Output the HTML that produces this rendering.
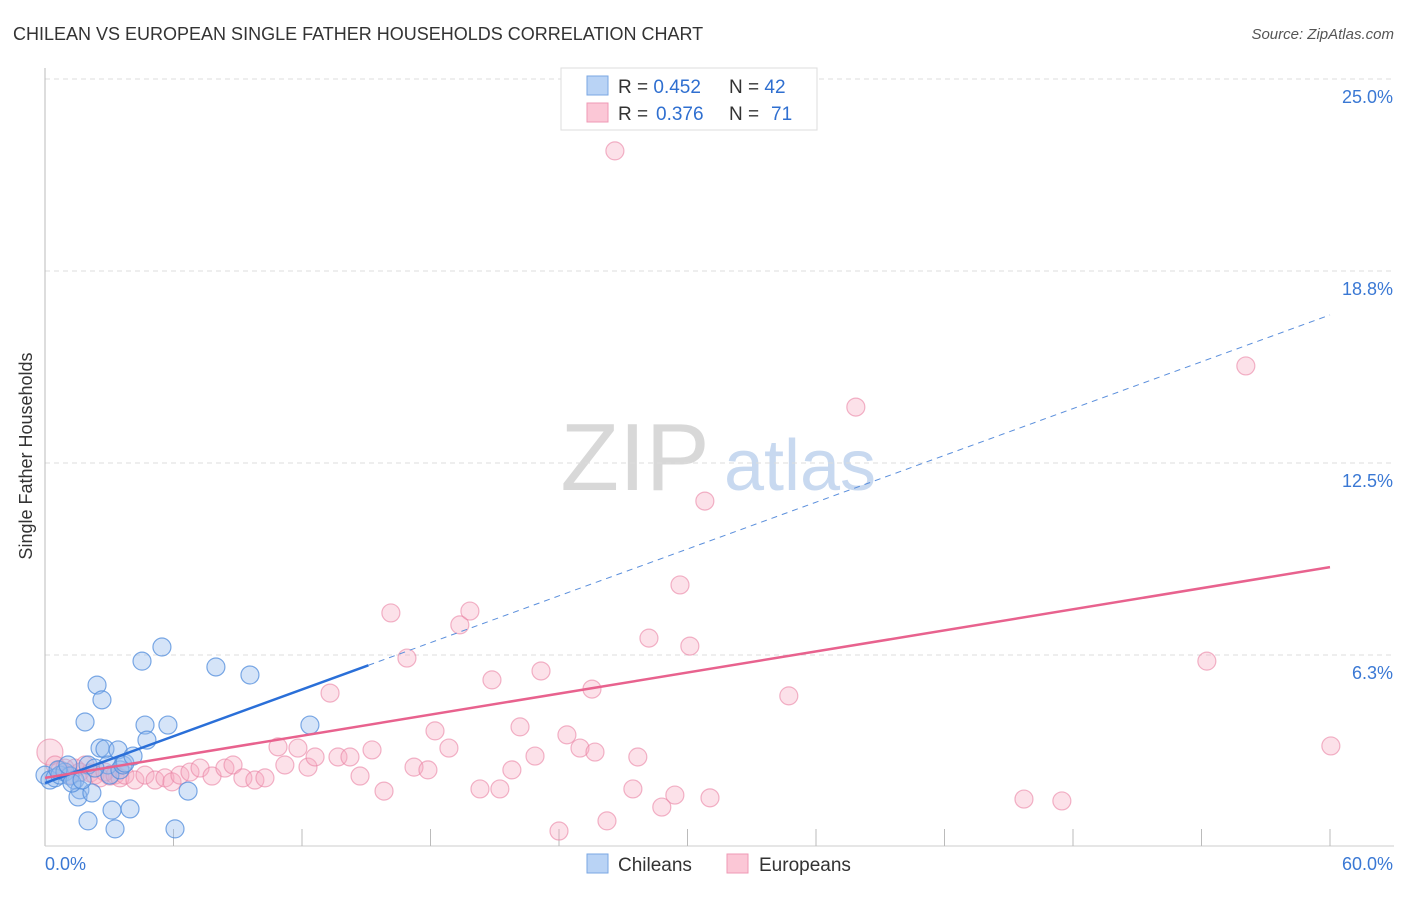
<!DOCTYPE html>
<html><head><meta charset="utf-8"><style>
body{margin:0;background:#fff;font-family:"Liberation Sans",sans-serif}
svg text{font-family:"Liberation Sans",sans-serif}
</style></head><body>
<svg width="1406" height="892" viewBox="0 0 1406 892">
<text x="13" y="40" font-size="18" fill="#333">CHILEAN VS EUROPEAN SINGLE FATHER HOUSEHOLDS CORRELATION CHART</text>
<text x="1394" y="39" font-size="15" fill="#555" font-style="italic" text-anchor="end">Source: ZipAtlas.com</text>
<text x="32" y="456" font-size="18" fill="#333" text-anchor="middle" transform="rotate(-90 32 456)">Single Father Households</text>
<g>
<text x="635" y="490" font-size="96" fill="#d8d8d8" font-family="Liberation Serif,serif" text-anchor="middle">ZIP</text>
<text x="800" y="490" font-size="72" fill="#c8d9f0" text-anchor="middle">atlas</text>
</g>
<g id="grid"></g><g id="axes"></g><g id="pts"></g><g id="lines"></g>
<g>
<rect x="561" y="68" width="256" height="62" fill="#fff" stroke="#ddd"/>
<rect x="587" y="76" width="21" height="19" fill="#b9d3f5" stroke="#7aa7e3"/>
<rect x="587" y="103" width="21" height="19" fill="#fbc7d6" stroke="#ef9ab5"/>
<text x="618" y="93" font-size="19" fill="#333">R = <tspan fill="#2f6fd0">0.452</tspan><tspan x="729">N = </tspan><tspan fill="#2f6fd0">42</tspan></text>
<text x="618" y="120" font-size="19" fill="#333">R = <tspan x="656" fill="#2f6fd0">0.376</tspan><tspan x="729">N = </tspan><tspan x="771" fill="#2f6fd0">71</tspan></text>
</g>
<g>
<rect x="587" y="854" width="21" height="19" fill="#b9d3f5" stroke="#7aa7e3"/>
<text x="618" y="871" font-size="19" fill="#333">Chileans</text>
<rect x="727" y="854" width="21" height="19" fill="#fbc7d6" stroke="#ef9ab5"/>
<text x="759" y="871" font-size="19" fill="#333">Europeans</text>
</g>
</svg>
<script>
const yTicks=[6.25,12.5,18.75,25];
const yTickLabels=["6.3%","12.5%","18.8%","25.0%"];
const xTicks=[0,6,12,18,24,30,36,42,48,54,60];
const blueX=[0,.23,.47,.70,.93,1.17,1.40,1.63,1.54,1.87,2.01,2.19,2.43,2.57,2.66,2.80,2.94,3.03,3.13,3.27,3.41,3.50,3.64,3.73,3.97,4.11,4.53,4.67,4.76,5.46,5.74,6.07,6.68,7.98,9.57,12.37,2.01,.61,1.07,1.26,1.73,2.33];
const blueY=[2.34,2.18,2.25,2.34,2.44,2.31,2.18,1.86,1.63,4.07,2.67,1.76,5.27,3.22,4.79,3.19,2.67,2.34,1.20,.59,3.16,2.51,2.67,2.73,1.24,2.96,6.05,3.97,3.48,6.51,3.97,.59,1.82,5.86,5.60,3.97,.85,2.51,2.67,2.08,2.18,2.57];
const pinkX=[.23,.47,.70,.93,1.17,1.40,1.63,1.87,2.10,2.33,2.57,2.80,3.03,3.27,3.50,3.73,4.20,4.67,5.14,5.60,5.93,6.30,6.77,7.24,7.80,8.40,8.78,9.24,9.80,10.27,10.88,11.20,11.81,12.28,12.61,13.31,13.68,14.24,14.71,15.27,15.83,16.15,16.90,17.23,17.88,18.21,18.86,19.37,19.84,20.31,20.87,21.24,21.80,22.18,22.88,23.16,24.00,24.37,24.98,25.54,25.68,26.24,26.61,27.45,27.68,28.20,28.80,29.41,29.65,30.11,30.81,31.05,32.21,34.73,37.86,45.71,47.48,54.25,56.07,60.04];
const pinkY=[3.09,2.67,2.51,2.57,2.34,2.57,2.44,2.67,2.41,2.34,2.25,2.44,2.31,2.34,2.25,2.34,2.18,2.34,2.18,2.25,2.12,2.34,2.44,2.57,2.31,2.57,2.67,2.25,2.18,2.25,3.26,2.67,3.22,2.60,2.93,5.01,2.93,2.93,2.31,3.16,1.82,7.62,6.15,2.60,2.51,3.78,3.22,7.23,7.68,1.89,5.44,1.89,2.51,3.91,2.96,5.73,.52,3.65,3.22,5.14,3.09,.85,22.66,1.89,2.93,6.80,1.30,1.69,8.53,6.54,11.26,1.60,23.76,4.92,14.32,1.56,1.50,6.05,15.66,3.29];
const blueTrend=[2.08,17.32];
const pinkTrend=[2.25,9.11];
const X=v=>45+v*1285/60, Y=v=>847-v*30.72;
const NS="http://www.w3.org/2000/svg";
function mk(tag,attrs,parent,txt){const e=document.createElementNS(NS,tag);for(const k in attrs)e.setAttribute(k,attrs[k]);if(txt!==undefined)e.textContent=txt;document.getElementById(parent).appendChild(e);return e;}
yTicks.forEach((t,i)=>{
 const l=mk('line',{x1:45,x2:1394,y1:Y(t),y2:Y(t),stroke:'#ddd','stroke-dasharray':'5,4'},'grid');
 
 
 const tx=mk('text',{x:1393,y:Y(t)+24,'font-size':18,fill:'#3a78d4','text-anchor':'end'},'grid',yTickLabels[i]);
 
 
});
const ax=mk('line',{x1:45,x2:45,y1:68,y2:846,stroke:'#bbb'},'axes');


const bx=mk('line',{x1:45,x2:1394,y1:846,y2:846,stroke:'#ccc'},'axes');


xTicks.forEach(t=>{if(t===0)return;
 const l=mk('line',{x1:X(t),x2:X(t),y1:829,y2:846,stroke:'#bbb'},'axes');
 
 
});
const x0=mk('text',{x:45,y:870,'font-size':18,fill:'#3a78d4'},'axes','0.0%');


const x1=mk('text',{x:1393,y:870,'font-size':18,fill:'#3a78d4','text-anchor':'end'},'axes','60.0%');


pinkX.forEach((v,i)=>{
 const c=mk('circle',{cx:X(v),cy:Y(pinkY[i]),r:i===0?13:9,fill:'rgba(246,168,192,0.35)',stroke:'rgba(234,130,163,0.6)','stroke-width':1.2},'pts');
 
 
});
blueX.forEach((v,i)=>{
 const c=mk('circle',{cx:X(v),cy:Y(blueY[i]),r:9,fill:'rgba(150,188,238,0.4)',stroke:'rgba(80,140,220,0.75)','stroke-width':1.2},'pts');
 
 
});
const bAt=x=>blueTrend[0]+(blueTrend[1]-blueTrend[0])*x/60;
const pAt=x=>pinkTrend[0]+(pinkTrend[1]-pinkTrend[0])*x/60;
const bs=mk('line',{x1:X(0),y1:Y(bAt(0)),x2:X(15.1),y2:Y(bAt(15.1)),stroke:'#2a6fd8','stroke-width':2.5},'lines');


const bd=mk('line',{x1:X(15.1),y1:Y(bAt(15.1)),x2:X(60),y2:Y(bAt(60)),stroke:'#5b8fdc','stroke-width':1,'stroke-dasharray':'6,5'},'lines');


const pl=mk('line',{x1:X(0),y1:Y(pAt(0)),x2:X(60),y2:Y(pAt(60)),stroke:'#e8628e','stroke-width':2.5},'lines');


</script>
</body></html>
